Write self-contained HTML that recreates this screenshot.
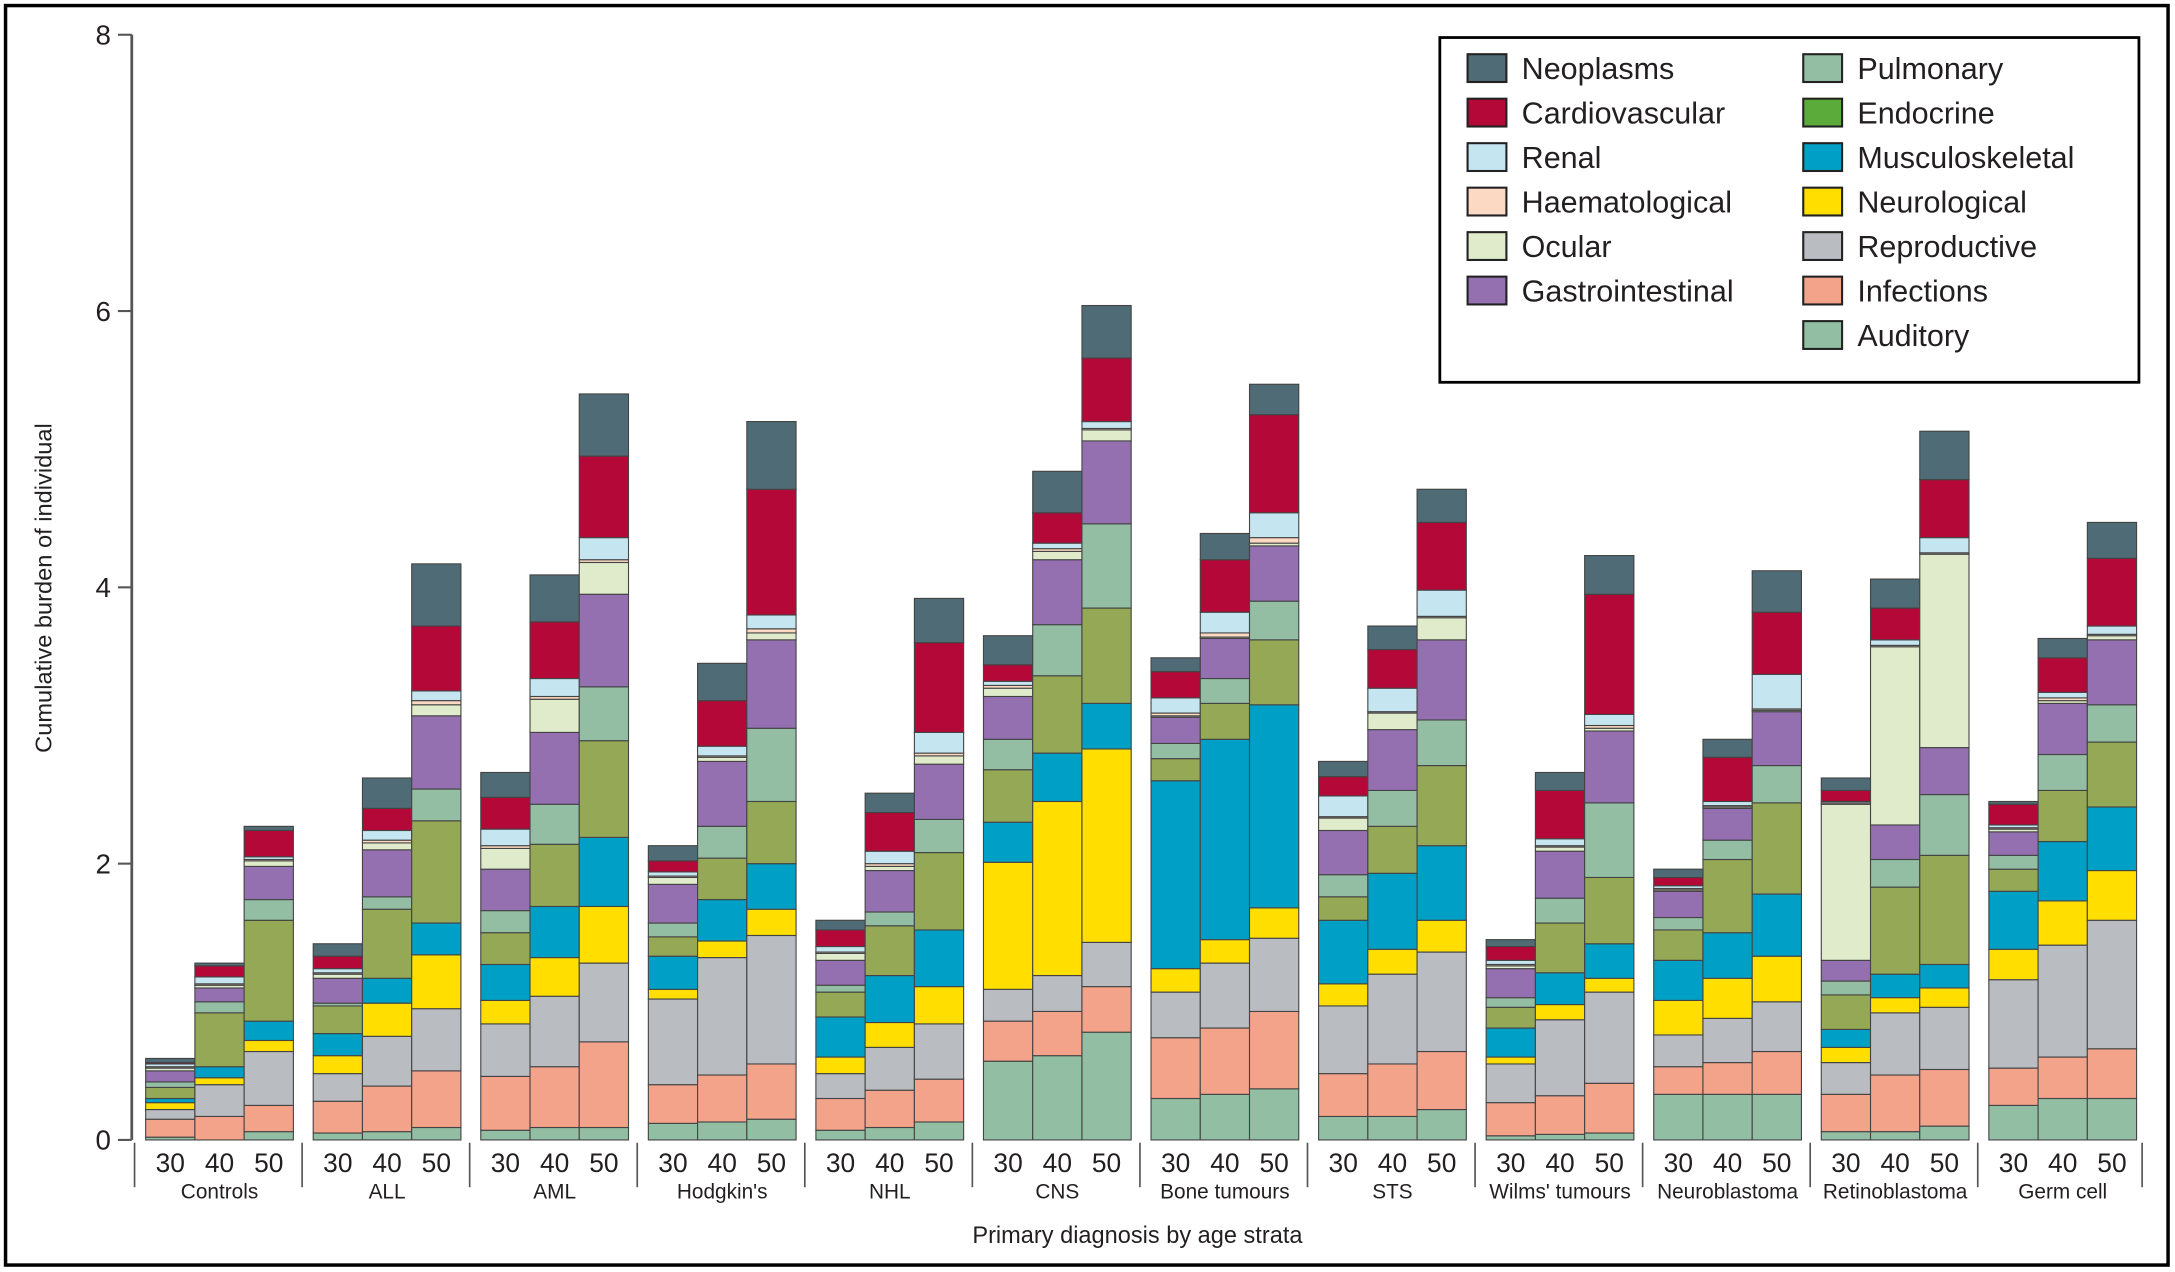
<!DOCTYPE html>
<html><head><meta charset="utf-8"><style>
html,body{margin:0;padding:0;background:#fff}
svg{display:block}
text{font-family:"Liberation Sans",sans-serif;fill:#231f20}
</style></head><body>
<svg id="chart" width="2175" height="1272" viewBox="0 0 1568 915" preserveAspectRatio="none" xmlns="http://www.w3.org/2000/svg">
<rect x="4" y="4" width="1559" height="906" fill="#fff" stroke="#000" stroke-width="2.5"/>
<g id="plot"></g>
<g id="legend"></g>
</svg>
<script>
const groups = ["Controls","ALL","AML","Hodgkin's","NHL","CNS","Bone tumours","STS","Wilms' tumours","Neuroblastoma","Retinoblastoma","Germ cell"];
const ages = ["30","40","50"];
const categories = ["Auditory","Infections","Reproductive","Neurological","Musculoskeletal","Endocrine","Pulmonary","Gastrointestinal","Ocular","Haematological","Renal","Cardiovascular","Neoplasms"];
const colors = ["#92bfa3","#f4a38b","#b9bcc0","#ffde00","#00a0c6","#95a855","#93bea4","#9470b1","#e0ebcb","#fbd9c3","#c5e6f1","#b30838","#4f6b76"];
const legendColors = ["#92bfa3","#f4a38b","#b9bcc0","#ffde00","#00a0c6","#5aab3a","#93bea4","#9470b1","#e0ebcb","#fbd9c3","#c5e6f1","#b30838","#4f6b76"];
const yTicks = [0,2,4,6,8];
// values per bar: [aud, inf, rep, neu, mus, endo, pul, gi, ocu, hae, ren, car, neo]
const controlsVals = [[.02,.13,.07,.05,.03,.08,.04,.08,.02,.01,.02,.01,.03],[0,.17,.23,.05,.08,.39,.08,.10,.02,.01,.05,.08,.02],[.06,.19,.39,.08,.14,.73,.15,.24,.04,.01,.02,.19,.03]];
const allVals = [[.05,.23,.20,.13,.16,.20,.02,.18,.03,.01,.03,.09,.09],[.06,.33,.36,.24,.18,.50,.09,.34,.05,.02,.07,.16,.22],[.09,.41,.45,.39,.23,.74,.23,.53,.08,.03,.07,.47,.45]];
const amlVals = [[.07,.39,.38,.17,.26,.23,.16,.30,.15,.02,.12,.23,.18],[.09,.44,.51,.28,.37,.45,.29,.52,.24,.02,.13,.41,.34],[.09,.62,.57,.41,.50,.70,.39,.67,.23,.02,.16,.59,.45]];
const hodgkinVals = [[.12,.28,.62,.07,.24,.14,.10,.28,.05,.01,.03,.08,.11],[.13,.34,.85,.12,.30,.30,.23,.47,.03,.01,.07,.33,.27],[.15,.40,.93,.19,.33,.45,.53,.64,.05,.03,.10,.91,.49]];
const nhlVals = [[.07,.23,.18,.12,.29,.18,.05,.18,.05,.01,.04,.12,.07],[.09,.27,.31,.18,.34,.36,.10,.30,.03,.02,.09,.28,.14],[.13,.31,.40,.27,.41,.56,.24,.40,.06,.02,.15,.65,.32]];
const cnsVals = [[.57,.29,.23,.92,.29,.38,.22,.31,.06,.02,.03,.12,.21],[.61,.32,.26,1.26,.35,.56,.37,.47,.06,.02,.04,.22,.30],[.78,.33,.32,1.40,.33,.69,.61,.60,.08,.01,.05,.46,.38]];
const boneVals = [[.30,.44,.33,.17,1.36,.16,.11,.19,.01,.02,.11,.19,.10],[.33,.48,.47,.17,1.45,.26,.18,.29,.01,.03,.15,.38,.19],[.37,.56,.53,.22,1.47,.47,.28,.40,.02,.04,.18,.71,.22]];
const stsVals = [[.17,.31,.49,.16,.46,.17,.16,.32,.09,.01,.15,.14,.11],[.17,.38,.65,.18,.55,.34,.26,.44,.12,.01,.17,.28,.17],[.22,.42,.72,.23,.54,.58,.33,.58,.16,.01,.19,.49,.24]];
const wilmsVals = [[.03,.24,.28,.05,.21,.15,.07,.21,.02,.01,.03,.10,.05],[.04,.28,.55,.11,.23,.36,.18,.34,.03,.01,.05,.35,.13],[.05,.36,.66,.10,.25,.48,.54,.52,.02,.02,.08,.87,.28]];
const neuroVals = [[.33,.20,.23,.25,.29,.22,.09,.19,.01,.01,.02,.06,.06],[.33,.23,.32,.29,.33,.53,.14,.23,.01,.01,.03,.32,.13],[.33,.31,.36,.33,.45,.66,.27,.39,.01,.01,.25,.45,.30]];
const retinoVals = [[.06,.27,.23,.11,.13,.25,.10,.15,1.13,.01,.01,.08,.09],[.06,.41,.45,.11,.17,.63,.20,.25,1.29,.01,.04,.23,.21],[.10,.41,.45,.14,.17,.79,.44,.34,1.40,.01,.11,.42,.35]];
const germVals = [[.25,.27,.64,.22,.42,.16,.10,.17,.02,.01,.02,.15,.02],[.30,.30,.81,.32,.43,.37,.26,.37,.02,.02,.04,.25,.14],[.30,.36,.93,.36,.46,.47,.27,.47,.03,.01,.06,.49,.26]];
const allGroupVals = [controlsVals,allVals,amlVals,hodgkinVals,nhlVals,cnsVals,boneVals,stsVals,wilmsVals,neuroVals,retinoVals,germVals];
const legendOrder = [[12,"Neoplasms"],[11,"Cardiovascular"],[10,"Renal"],[9,"Haematological"],[8,"Ocular"],[7,"Gastrointestinal"],[6,"Pulmonary"],[5,"Endocrine"],[4,"Musculoskeletal"],[3,"Neurological"],[2,"Reproductive"],[1,"Infections"],[0,"Auditory"]];

const NS="http://www.w3.org/2000/svg";
const plot=document.getElementById('plot');
const legend=document.getElementById('legend');
const y0=820, yTop=25, yMax=8;
function yScale(v){return y0-(v/yMax)*(y0-yTop);}
const groupPitch=120.8, firstLeft=105, barW=35.5;
function xBar(g,a){return firstLeft+g*groupPitch+a*barW;}
function mk(tag,attrs,parent){const e=document.createElementNS(NS,tag);for(const k in attrs)e.setAttribute(k,attrs[k]);parent.appendChild(e);return e;}

// y axis
let ax=mk('line',{x1:95,y1:yTop,x2:95,y2:y0,stroke:'#555',"stroke-width":2},plot);


yTicks.forEach(t=>{
  const y=yScale(t);
  const l=mk('line',{x1:85,y1:y,x2:95,y2:y,stroke:'#555',"stroke-width":1.5},plot);
  
  
  const tx=mk('text',{x:80,y:y+7,"text-anchor":"end","font-size":20},plot);
  tx.textContent=t;
  
  
});
const yt=mk('text',{x:0,y:0,"text-anchor":"middle","font-size":17,transform:"translate(37,423) rotate(-90)"},plot);
yt.textContent="Cumulative burden of individual";



// bars
allGroupVals.forEach((gv,g)=>{
  gv.forEach((vals,a)=>{
    let cum=0;
    const x=xBar(g,a);
    vals.forEach((v,c)=>{
      if(v<=0){return;}
      const yb=yScale(cum), yt2=yScale(cum+v);
      const r=mk('rect',{x:x,y:yt2,width:barW,height:yb-yt2,fill:colors[c],stroke:'#444',"stroke-width":0.8},plot);
      
      
      cum+=v;
    });
    const al=mk('text',{x:x+barW/2,y:843,"text-anchor":"middle","font-size":19},plot);
    al.textContent=ages[a];
    
    
  });
  const sep=mk('line',{x1:xBar(g,0)-8,y1:822,x2:xBar(g,0)-8,y2:854,stroke:'#555',"stroke-width":1.2},plot);
  
  
  const gl=mk('text',{x:xBar(g,1)+barW/2,y:862,"text-anchor":"middle","font-size":15},plot);
  gl.textContent=groups[g];
  
  
});
const lastSep=mk('line',{x1:xBar(11,3)+4,y1:822,x2:xBar(11,3)+4,y2:854,stroke:'#555',"stroke-width":1.2},plot);


const xt=mk('text',{x:820,y:894,"text-anchor":"middle","font-size":17},plot);
xt.textContent="Primary diagnosis by age strata";



// legend
const lb=mk('rect',{x:1038,y:27,width:504,height:248,fill:'#fff',stroke:'#000',"stroke-width":2},legend);


legendOrder.forEach((item,i)=>{
  const col=i<6?0:1, row=i<6?i:i-6;
  const sx=col?1300:1058, ty=49+row*32;
  const sw=mk('rect',{x:sx,y:ty-10,width:28,height:20,fill:legendColors[item[0]],stroke:'#222',"stroke-width":1.5},legend);
  
  
  const t=mk('text',{x:sx+39,y:ty+8,"font-size":22},legend);
  t.textContent=item[1];
  
  
});
</script>
</body></html>
